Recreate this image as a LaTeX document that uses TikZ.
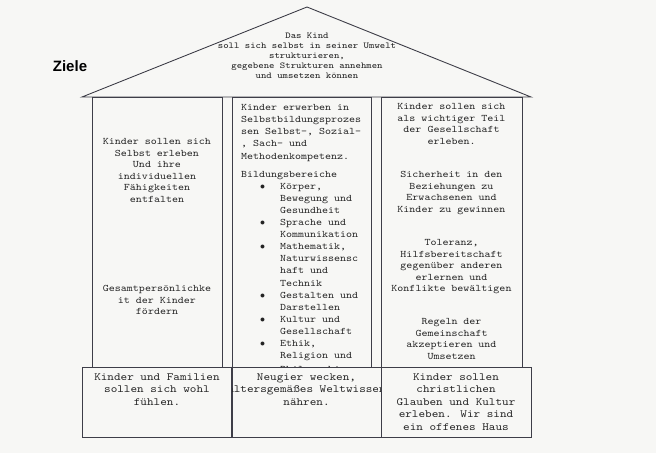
\documentclass[tikz,border=0pt]{standalone}
\usepackage{fontspec}
\setmainfont{Latin Modern Mono}[FakeStretch=1.143]
\newfontfamily\zielefont{Liberation Sans}
\definecolor{bg}{RGB}{247,247,245}
\definecolor{ln}{RGB}{62,62,72}
\definecolor{tx}{RGB}{35,35,35}
\newcommand\bitem{\makebox[39pt][l]{\hspace*{19pt}$\bullet$}}
\newcommand\bind{\hspace*{39pt}}
\begin{document}
\begin{tikzpicture}[x=1pt,y=-1pt,
  frame/.style={draw=ln,line width=0.9pt,fill=bg,inner sep=0pt},
  coltext/.style={text=tx,inner sep=0pt,align=center,anchor=north,font=\fontsize{10}{11.5}\selectfont},
  midtext/.style={text=tx,inner sep=0pt,align=left,anchor=north west,font=\fontsize{10}{12.1}\selectfont},
  roottext/.style={text=tx,inner sep=0pt,align=center,anchor=north,font=\fontsize{9}{10}\selectfont},
  basetext/.style={text=tx,inner sep=0pt,align=center,anchor=north,font=\fontsize{11}{12.6}\selectfont}]
\fill[bg] (0,0) rectangle (656,453);
\useasboundingbox (0,0) rectangle (656,453);

% title
\node[font=\zielefont\bfseries\fontsize{15}{18}\selectfont,text=black,inner sep=0pt] (ziele) at (70,66) {Ziele};

% roof
\coordinate (rl) at (82,97);
\coordinate (ra) at (307,7);
\coordinate (rr) at (531,97);
\draw[ln,line width=0.9pt,fill=bg] (rl) -- (ra) -- (rr) -- cycle;
\node[roottext] (roof) at (307,32.5) {Das Kind\\soll sich selbst in seiner Umwelt\\strukturieren,\\gegebene Strukturen annehmen\\und umsetzen können};

% columns
\node[frame,minimum width=130pt,minimum height=270pt] (c1) at (157,232) {};
\node[frame,minimum width=139pt,minimum height=270pt] (c2) at (301.5,232) {};
\node[frame,minimum width=141pt,minimum height=270pt] (c3) at (451.5,232) {};

% left column text
\node[coltext] (l1) at (157,138.5) {Kinder sollen sich\\Selbst erleben\\Und ihre\\individuellen\\Fähigkeiten\\entfalten};
\node[coltext] (l2) at (157,285.5) {Gesamtpersönlichke\\it der Kinder\\fördern};

% middle column text
\node[midtext] (m1) at (241,104.3) {Kinder erwerben in\\Selbstbildungsprozes\\sen Selbst-, Sozial-\\, Sach- und\\Methodenkompetenz.\\[6pt]
Bildungsbereiche\\
\bitem Körper,\\\bind Bewegung und\\\bind Gesundheit\\
\bitem Sprache und\\\bind Kommunikation\\
\bitem Mathematik,\\\bind Naturwissensc\\\bind haft und\\\bind Technik\\
\bitem Gestalten und\\\bind Darstellen\\
\bitem Kultur und\\\bind Gesellschaft\\
\bitem Ethik,\\\bind Religion und\\[1.5pt]\bind Philosophie};

% right column text
\node[coltext] (r1) at (451.5,103.5) {Kinder sollen sich\\als wichtiger Teil\\der Gesellschaft\\erleben.};
\node[coltext] (r2) at (451.5,171.5) {Sicherheit in den\\Beziehungen zu\\Erwachsenen und\\Kinder zu gewinnen};
\node[coltext] (r3) at (451.5,239.5) {Toleranz,\\Hilfsbereitschaft\\gegenüber anderen\\erlernen und\\Konflikte bewältigen};
\node[coltext] (r4) at (451.5,318.5) {Regeln der\\Gemeinschaft\\akzeptieren und\\Umsetzen};

% base row
\node[frame,minimum width=150pt,minimum height=70pt] (b1) at (157,402) {};
\node[frame,minimum width=149pt,minimum height=70pt] (b2) at (306.5,402) {};
\node[frame,minimum width=150pt,minimum height=70pt] (b3) at (456,402) {};

\node[basetext] (bt1) at (157,373.2) {Kinder und Familien\\sollen sich wohl\\fühlen.};
\begin{scope}
\clip (b2.north west) rectangle (b2.south east);
\node[basetext] (bt2) at (306.5,373.2) {Neugier wecken,\\altersgemäßes Weltwissen\\nähren.};
\end{scope}
\draw[ln,line width=0.9pt] (b2.north west) -- (b2.south west) (b2.north east) -- (b2.south east);
\node[basetext] (bt3) at (456,373.2) {Kinder sollen\\christlichen\\Glauben und Kultur\\erleben. Wir sind\\ein offenes Haus};
\end{tikzpicture}
\end{document}
